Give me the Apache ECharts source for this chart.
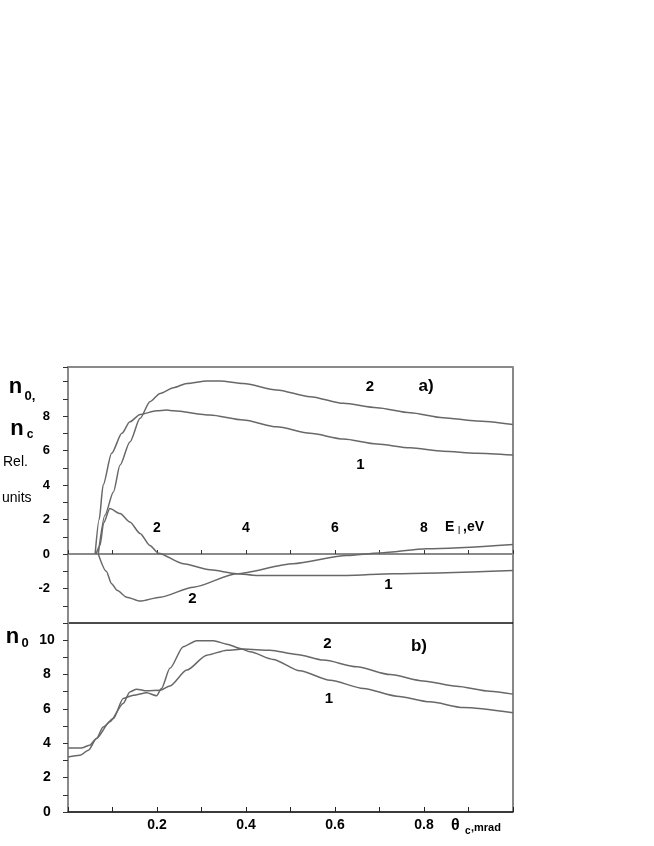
<!DOCTYPE html>
<html>
<head>
<meta charset="utf-8">
<script src="https://cdn.jsdelivr.net/npm/echarts@6/dist/echarts.min.js"></script>
<style>
  html, body { margin: 0; padding: 0; background: #fff; }
  #main { width: 654px; height: 846px; }
</style>
</head>
<body>
<div id="main"></div>
<script>
// panel a) : energy E_l (eV) on x
const topE1 = [0.61, 0.7, 0.79, 0.98, 1.21, 1.39, 1.62, 1.99, 2.22, 2.37, 3.19, 3.94, 4.69, 5.44, 6.19, 6.94, 7.69, 8.43, 9.18, 10];
const topN1 = [0, 2.0, 4.0, 5.84, 7.0, 7.67, 8.1, 8.31, 8.35, 8.31, 8.06, 7.77, 7.38, 7.0, 6.67, 6.38, 6.16, 5.97, 5.85, 5.74];
const topE2 = [0.68, 0.83, 1.02, 1.17, 1.39, 1.62, 1.84, 2.07, 2.37, 2.67, 3.12, 3.42, 3.94, 4.69, 5.44, 6.19, 6.94, 7.69, 8.43, 9.18, 10];
const topN2 = [0, 2.25, 3.6, 5.16, 6.5, 7.87, 8.84, 9.32, 9.65, 9.9, 10.04, 10.04, 9.9, 9.52, 9.13, 8.74, 8.49, 8.2, 7.91, 7.72, 7.52];
const lowE1 = [0.63, 0.72, 0.8, 0.94, 1.17, 1.39, 1.62, 1.84, 2.03, 2.59, 3.19, 3.79, 4.24, 6.26, 7.31, 10];
const lowN1 = [0, 0.5, 1.8, 2.64, 2.35, 1.86, 1.19, 0.5, 0.05, -0.56, -0.91, -1.14, -1.24, -1.24, -1.14, -0.95];
const lowE2 = [0.68, 0.86, 0.98, 1.1, 1.32, 1.62, 2.07, 2.82, 3.79, 5.06, 6.26, 7.01, 8.06, 10];
const lowN2 = [0, -1.0, -1.72, -2.1, -2.5, -2.73, -2.5, -1.92, -1.14, -0.56, -0.08, 0.06, 0.31, 0.56];

// panel b) : angle theta_c (mrad) on x
const botT1 = [0, 0.027, 0.046, 0.064, 0.079, 0.102, 0.124, 0.147, 0.177, 0.199, 0.21, 0.229, 0.259, 0.289, 0.327, 0.357, 0.387, 0.409, 0.461, 0.521, 0.589, 0.664, 0.739, 0.813, 0.888, 1.0];
const botN1 = [3.2, 3.3, 3.6, 4.28, 4.95, 5.44, 6.61, 6.8, 6.94, 6.76, 7.19, 8.36, 9.62, 9.97, 9.97, 9.77, 9.52, 9.32, 8.88, 8.22, 7.67, 7.19, 6.74, 6.41, 6.08, 5.77];
const botT2 = [0, 0.031, 0.049, 0.064, 0.094, 0.124, 0.139, 0.154, 0.177, 0.207, 0.229, 0.267, 0.312, 0.357, 0.394, 0.454, 0.514, 0.574, 0.649, 0.724, 0.798, 0.873, 0.948, 1.0];
const botN2 = [3.73, 3.73, 3.89, 4.28, 5.25, 6.32, 6.99, 7.15, 7.05, 7.09, 7.34, 8.26, 9.13, 9.42, 9.48, 9.42, 9.17, 8.84, 8.45, 8.0, 7.63, 7.32, 7.03, 6.86];

// tick labels that are printed
const topYLabels = [-2, 0, 2, 4, 6, 8];
const eLabels = [2, 4, 6, 8];
const botYLabels = [0, 2, 4, 6, 8, 10];
const thetaLabels = [0.2, 0.4, 0.6, 0.8];

const FONT = '"Liberation Sans", Arial, sans-serif';
const AXIS_GRAY = '#8a8a8a';
const LINE = '#686868';

// top panel: y from -4 to 10.85 over 256 px, the E axis sits on y = 0
const TOP_Y_MIN = -4, TOP_Y_MAX = 10.85, TOP_H = 256;
const zeroOffset = -TOP_H * (0 - TOP_Y_MIN) / (TOP_Y_MAX - TOP_Y_MIN);

function zip(xs, ys) { return xs.map((x, i) => [x, ys[i]]); }
function has(list, v) { return list.some(l => Math.abs(l - v) < 1e-6); }

const chart = echarts.init(document.getElementById('main'), null, { renderer: 'canvas' });

function curve(grid, xs, ys) {
  return {
    type: 'line',
    xAxisIndex: grid === 0 ? 0 : 2,
    yAxisIndex: grid,
    data: zip(xs, ys),
    showSymbol: false,
    smooth: 0.25,
    smoothMonotone: 'x',
    lineStyle: { color: LINE, width: 1.5 },
    silent: true
  };
}

function txt(text, x, y, size, bold, align) {
  return {
    type: 'text',
    x: x, y: y,
    silent: true,
    style: {
      text: text,
      font: (bold ? 'bold ' : '') + size + 'px ' + FONT,
      fill: '#000',
      align: align || 'center',
      verticalAlign: 'middle'
    }
  };
}

const option = {
  animation: false,
  backgroundColor: '#fff',
  grid: [
    { left: 68, width: 445, top: 367, height: TOP_H, show: true, borderColor: '#111', borderWidth: 1 },
    { left: 68, width: 445, top: 623, height: 189, show: true, borderColor: '#111', borderWidth: 1 }
  ],
  xAxis: [
    {
      gridIndex: 0, type: 'value', min: 0, max: 10, interval: 1,
      position: 'bottom', offset: zeroOffset,
      axisLine: { onZero: false, lineStyle: { color: AXIS_GRAY, width: 2 } },
      axisTick: { inside: true, length: 4, lineStyle: { color: '#333' } },
      axisLabel: {
        inside: true, margin: 19, color: '#000', fontWeight: 'bold', fontSize: 14, fontFamily: FONT,
        formatter: v => has(eLabels, v) ? String(v) : ''
      },
      splitLine: { show: false }
    },
    {
      gridIndex: 0, type: 'value', position: 'top', min: 0, max: 10,
      axisLine: { onZero: false, lineStyle: { color: AXIS_GRAY, width: 2 } },
      axisTick: { show: false }, axisLabel: { show: false }, splitLine: { show: false }
    },
    {
      gridIndex: 1, type: 'value', min: 0, max: 1, interval: 0.1,
      axisLine: { lineStyle: { color: '#222', width: 1.5 } },
      axisTick: { inside: true, length: 5, lineStyle: { color: '#222' } },
      axisLabel: {
        margin: 6, color: '#000', fontWeight: 'bold', fontSize: 14, fontFamily: FONT,
        formatter: v => has(thetaLabels, v) ? String(v) : ''
      },
      splitLine: { show: false }
    }
  ],
  yAxis: [
    {
      gridIndex: 0, type: 'value', min: TOP_Y_MIN, max: TOP_Y_MAX, interval: 1,
      axisLine: { show: true, onZero: false, lineStyle: { color: AXIS_GRAY, width: 2 } },
      axisTick: { show: true, length: 5, lineStyle: { color: '#333' } },
      axisLabel: {
        margin: 18, color: '#000', fontWeight: 'bold', fontSize: 13, fontFamily: FONT,
        formatter: v => has(topYLabels, v) ? String(v) : ''
      },
      splitLine: { show: false }
    },
    {
      gridIndex: 1, type: 'value', min: 0, max: 11, interval: 1,
      axisLine: { show: true, onZero: false, lineStyle: { color: AXIS_GRAY, width: 2 } },
      axisTick: { show: true, length: 5, lineStyle: { color: '#333' } },
      axisLabel: {
        margin: 21, align: 'center', color: '#000', fontWeight: 'bold', fontSize: 14, fontFamily: FONT,
        formatter: v => has(botYLabels, v) ? String(v) : ''
      },
      splitLine: { show: false }
    }
  ],
  series: [
    curve(0, topE1, topN1),
    curve(0, topE2, topN2),
    curve(0, lowE1, lowN1),
    curve(0, lowE2, lowN2),
    curve(1, botT1, botN1),
    curve(1, botT2, botN2)
  ],
  graphic: [
    txt('n', 15.5, 387, 22, true),
    txt('0,', 30, 396, 13, true),
    txt('n', 17, 429, 22, true),
    txt('c', 30, 435, 12, true),
    txt('Rel.', 3, 462, 14, false, 'left'),
    txt('units', 2, 498, 14, false, 'left'),
    txt('2', 370, 387, 15, true),
    txt('a)', 426, 386, 17, true),
    txt('1', 360.5, 465, 15, true),
    txt('1', 388.5, 585, 15, true),
    txt('2', 192.5, 599, 15, true),
    txt('E', 445, 527, 14, true, 'left'),
    txt('l', 458, 531, 10, false, 'left'),
    txt(',eV', 463, 527, 14, true, 'left'),
    txt('n', 12.5, 637, 22, true),
    txt('0', 25, 643, 13, true),
    txt('2', 327.5, 644, 15, true),
    txt('b)', 419, 646, 17, true),
    txt('1', 329, 699, 15, true),
    txt('\u03b8', 451, 826, 16, true, 'left'),
    txt('c', 465, 831, 10, true, 'left'),
    txt(',mrad', 471, 828, 11, true, 'left')
  ]
};

chart.setOption(option);
</script>
</body>
</html>
